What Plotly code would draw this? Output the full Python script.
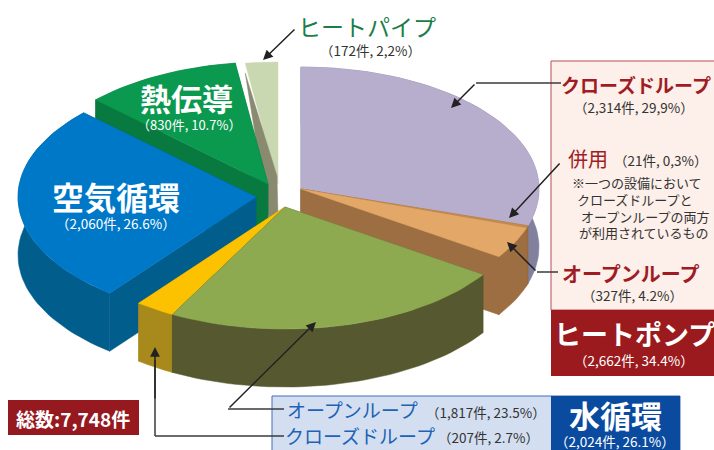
import math
import plotly.graph_objects as go

# ---- data ----
categories = ["クローズドループ", "併用", "オープンループ", "オープンループ(水)", "クローズドループ(水)",
              "空気循環", "熱伝導", "ヒートパイプ"]
counts = [2314, 21, 327, 1817, 207, 2060, 830, 172]
percent = [29.9, 0.3, 4.2, 23.5, 2.7, 26.6, 10.7, 2.2]

# ---- styling / geometry of the exploded 3D pie ----
top_colors = ["#b7aecd", "#c58a4e", "#e3a868", "#8eaa50", "#fcc200", "#0078c8", "#0b994f", "#c9d8b1"]
side_colors = ["#82809f", "#9c6c3e", "#9c6e42", "#56592f", "#a88a1c", "#005d8c", "#087a40", "#8a8a70"]
apex = [(301, 189), (301, 189), (301, 189), (285, 207), (285, 207), (256, 197), (268, 184), (278, 184)]
RX, RY, DEPTH = 238, 122, 58

fig = go.Figure()


def pt(c, deg, r=1.0, dz=0):
    t = math.radians(deg)
    return c[0] + RX * r * math.sin(t), c[1] - RY * r * math.cos(t) + dz


def poly(points, color):
    xs = [p[0] for p in points] + [points[0][0]]
    ys = [p[1] for p in points] + [points[0][1]]
    fig.add_trace(go.Scatter(x=xs, y=ys, mode="lines", fill="toself", fillcolor=color,
                             line=dict(color=color, width=0.5), hoverinfo="skip", showlegend=False))


total = sum(percent)
angles = [0]
for p in percent:
    angles.append(angles[-1] + p / total * 360)


def wedge(i):
    c = apex[i]
    a0, a1 = angles[i], angles[i + 1]
    n = max(2, int((a1 - a0) / 2))
    arc = [a0 + (a1 - a0) * k / n for k in range(n + 1)]
    if i != 7:
        poly([c, pt(c, a0), pt(c, a0, dz=DEPTH), (c[0], c[1] + DEPTH)], side_colors[i])
        poly([c, pt(c, a1), pt(c, a1, dz=DEPTH), (c[0], c[1] + DEPTH)], side_colors[i])
        poly([pt(c, a) for a in arc] + [pt(c, a, dz=DEPTH) for a in reversed(arc)], side_colors[i])
    poly([c] + [pt(c, a) for a in arc], top_colors[i])
    if i == 7:
        # the reference shows this wedge's cut face lying over its own top
        poly([pt(c, a0, dz=10), (c[0] - 1, c[1] - 8), (c[0], c[1] + 32), (c[0] - 8, c[1] + 42)], side_colors[i])


for i in [7, 6, 0, 1, 2, 5, 4, 3]:
    wedge(i)

shapes = [
    dict(type="rect", x0=551, x1=716, y0=61, y1=310, fillcolor="#fdefe9", line=dict(color="#b2505a", width=1)),
    dict(type="rect", x0=551, x1=716, y0=310, y1=376, fillcolor="#9b1a1e", line=dict(width=0)),
    dict(type="rect", x0=272, x1=680, y0=396, y1=452, fillcolor="#d3dff1", line=dict(color="#3f6fbb", width=1)),
    dict(type="rect", x0=551, x1=680, y0=396, y1=452, fillcolor="#0a4ba0", line=dict(width=0)),
    dict(type="rect", x0=8, x1=139, y0=400, y1=435, fillcolor="#95191f", line=dict(width=0)),
]

line_col = "#3a3a3a"
for seg in [
    (476, 83, 561, 83), (228, 409, 284, 409), (155, 436, 284, 436), (155, 436, 155, 360),
    (537, 272, 558, 272),
]:
    shapes.append(dict(type="line", x0=seg[0], y0=seg[1], x1=seg[2], y1=seg[3],
                       line=dict(color=line_col, width=1.5), layer="above"))

anns = []


def text(x, y, s, size, color, anchor="center", bold=False):
    anns.append(dict(x=x, y=y, text=f"<b>{s}</b>" if bold else s, showarrow=False, xanchor=anchor, yanchor="middle",
                     font=dict(size=size, color=color, family="Noto Sans CJK JP")))


def arrow(x0, y0, x1, y1):
    anns.append(dict(x=x1, y=y1, ax=x0, ay=y0, axref="x", ayref="y", xref="x", yref="y", text="",
                     showarrow=True, arrowhead=2, arrowsize=1.3, arrowwidth=1.5, arrowcolor="#222222"))


arrow(476, 83, 451, 108)
arrow(561, 162, 509, 218)
arrow(537, 272, 507, 242)
arrow(228, 409, 316, 322)
arrow(155, 400, 155, 347)
arrow(296, 28, 263, 60)

red = "#a01c24"
blue = "#1d62b4"
dark = "#333333"
green = "#1b7d48"
text(367, 26, "ヒートパイプ", 23, green)
text(370, 50, "（172件, 2,2%）", 13.5, dark)
text(186, 97, "熱伝導", 31, "white", bold=True)
text(189, 124, "（830件, 10.7%）", 13, "white")
text(116, 196, "空気循環", 32, "white", bold=True)
text(116, 223, "（2,060件, 26.6%）", 13.5, "white")
text(636, 84, "クローズドループ", 19, red, bold=True)
text(634, 107, "（2,314件, 29,9%）", 13.5, dark)
text(588, 158, "併用", 20, red)
text(660, 160, "（21件, 0,3%）", 13.5, dark)
text(637, 182, "※一つの設備において", 13, dark)
text(635, 199, "クローズドループと", 13, dark)
text(645, 216, "オープンループの両方", 13, dark)
text(644, 232, "が利用されているもの", 13, dark)
text(631, 273, "オープンループ", 20, red, bold=True)
text(632, 295, "（327件, 4.2%）", 13.5, dark)
text(634, 333, "ヒートポンプ", 27, "white", bold=True)
text(634, 360, "（2,662件, 34.4%）", 13.5, "white")
text(352, 409, "オープンループ", 19, blue)
text(486, 412, "（1,817件, 23.5%）", 13.5, dark)
text(360, 435, "クローズドループ", 19, blue)
text(488, 437, "（207件, 2.7%）", 13.5, dark)
text(615, 414, "水循環", 31, "white", bold=True)
text(615, 441, "（2,024件, 26.1%）", 13.5, "white")
text(73, 418, "総数:7,748件", 19, "white", bold=True)

fig.update_layout(
    width=714, height=450, margin=dict(l=0, r=0, t=0, b=0), paper_bgcolor="white", plot_bgcolor="white",
    xaxis=dict(range=[0, 714], visible=False, fixedrange=True),
    yaxis=dict(range=[450, 0], visible=False, fixedrange=True),
    shapes=shapes, annotations=anns, showlegend=False,
)
fig.write_html("out.html", config={"displayModeBar": False},
               post_script="document.body.style.margin='0';document.body.style.overflow='hidden';")
